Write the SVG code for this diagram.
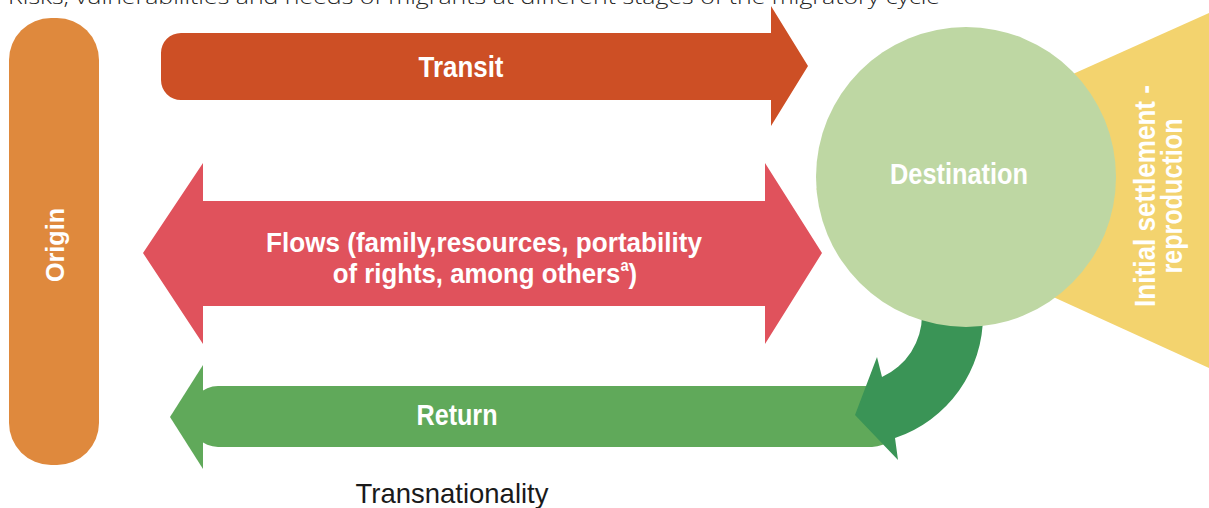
<svg xmlns="http://www.w3.org/2000/svg" width="1209" height="508" viewBox="0 0 1209 508">
<style>
.lbl{font-family:"Liberation Sans",Arial,sans-serif;font-weight:bold;fill:#ffffff;text-anchor:middle}
.title{font-family:"Open Sans","Liberation Sans",sans-serif;font-weight:300;fill:#222222}
.cap{font-family:"Liberation Sans",Arial,sans-serif;fill:#1a1a1a;text-anchor:middle}
</style>
<rect width="1209" height="508" fill="#ffffff"/>
<text class="title" x="8" y="4" font-size="21" textLength="932" lengthAdjust="spacingAndGlyphs">Risks, vulnerabilities and needs of migrants at different stages of the migratory cycle</text>

<g id="initial-settlement">
<polygon points="816,189 1209,13 1209,368" fill="#F3D36E"/>
<text class="lbl" transform="translate(1155,196) rotate(-90)" font-size="29" textLength="222" lengthAdjust="spacingAndGlyphs">Initial settlement -</text>
<text class="lbl" transform="translate(1182,196) rotate(-90)" font-size="29" textLength="155" lengthAdjust="spacingAndGlyphs">reproduction</text>
</g>

<g id="origin">
<rect x="9" y="18" width="90" height="447" rx="42" fill="#DF893D"/>
<text class="lbl" transform="translate(64,245) rotate(-90)" font-size="25" textLength="74" lengthAdjust="spacingAndGlyphs">Origin</text>
</g>

<g id="connectors">
<g id="transit">
<path d="M181,33 H771 V6 L808,66 L771,126 V100 H181 A20,20 0 0 1 161,80 V53 A20,20 0 0 1 181,33 Z" fill="#CD4F25"/>
<text class="lbl" x="461" y="77" font-size="29" textLength="85" lengthAdjust="spacingAndGlyphs">Transit</text>
</g>
<g id="flows">
<polygon points="203,201 765,201 765,163 822,253 765,344 765,306 203,306 203,344 143,253 203,163" fill="#E0525C"/>
<text class="lbl" x="484" y="252" font-size="28" textLength="436" lengthAdjust="spacingAndGlyphs">Flows (family,resources, portability</text>
<text class="lbl" transform="translate(485,283) scale(0.92,1)" font-size="28">of rights, among others<tspan font-size="16" dy="-12">a</tspan><tspan dy="12">)</tspan></text>
</g>
<g id="return">
<rect x="190" y="386" width="710" height="61" rx="28" fill="#60A95A"/>
<polygon points="203,365 170,417 203,469" fill="#60A95A"/>
<text class="lbl" x="457" y="425" font-size="29" textLength="81" lengthAdjust="spacingAndGlyphs">Return</text>
</g>
<path id="return-curve" d="M922,300 V315 A68,68 0 0 1 882,377 L877,357 L855,415 L898,460 L895,438 A129,129 0 0 0 983,315 V300 Z" fill="#3A9456"/>
</g>

<g id="destination">
<circle cx="966" cy="177" r="150" fill="#BED7A3"/>
<text class="lbl" x="959" y="184" font-size="30" textLength="138" lengthAdjust="spacingAndGlyphs">Destination</text>
</g>

<text id="transnationality" class="cap" x="452" y="503" font-size="28" textLength="193" lengthAdjust="spacingAndGlyphs">Transnationality</text>
</svg>
